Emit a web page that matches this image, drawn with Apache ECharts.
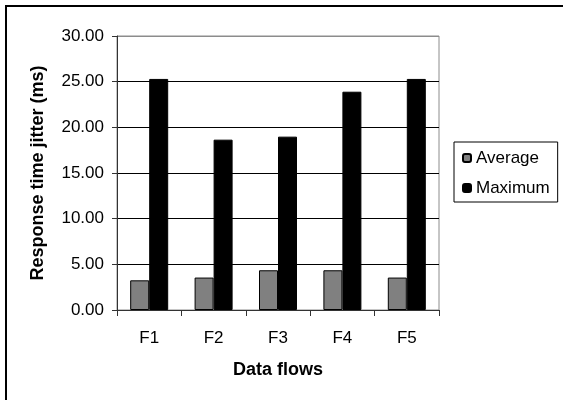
<!DOCTYPE html>
<html>
<head>
<meta charset="utf-8">
<script src="https://cdn.jsdelivr.net/npm/echarts@6/dist/echarts.min.js"></script>
<style>html,body{margin:0;padding:0;background:#fff}#c{width:563px;height:400px}</style>
</head>
<body>
<div id="c"></div>
<script>
var categories = ['F1', 'F2', 'F3', 'F4', 'F5'];
var averageValues = [3.25, 3.55, 4.35, 4.35, 3.55];
var maximumValues = [25.3, 18.65, 18.98, 23.9, 25.3];
var seriesNames = ['Average', 'Maximum'];
var yAxisTitle = 'Response time jitter (ms)';
var xAxisTitle = 'Data flows';

var FONT = '"Liberation Sans", Arial, sans-serif';
var chart = echarts.init(document.getElementById('c'), null, {renderer: 'canvas'});
chart.setOption({
  backgroundColor: '#fff',
  animation: false,
  graphic: [{
    type: 'rect', silent: true, z: 100,
    shape: {x: 6, y: 6, width: 700, height: 500},
    style: {fill: 'none', stroke: '#000', lineWidth: 2}
  }],
  grid: {left: 117, top: 36, right: 124, bottom: 90, show: true, borderColor: '#8c8c8c', borderWidth: 1, backgroundColor: '#fff'},
  legend: {
    left: 454, top: 142, orient: 'vertical',
    padding: [6, 8, 4, 8], itemGap: 10,
    itemWidth: 8, itemHeight: 8,
    borderColor: '#000', borderWidth: 1, backgroundColor: '#fff',
    textStyle: {fontFamily: FONT, fontSize: 17, color: '#000', lineHeight: 20},
    data: seriesNames
  },
  xAxis: {
    type: 'category', data: categories,
    name: xAxisTitle, nameLocation: 'middle', nameGap: 51,
    nameTextStyle: {fontFamily: FONT, fontSize: 18, fontWeight: 'bold', color: '#000'},
    axisLine: {lineStyle: {color: '#333', width: 1}},
    axisTick: {show: true, length: 6, lineStyle: {color: '#333'}},
    axisLabel: {fontFamily: FONT, fontSize: 17, color: '#000', margin: 20}
  },
  yAxis: {
    type: 'value', min: 0, max: 30, interval: 5,
    name: yAxisTitle, nameLocation: 'middle', nameGap: 70,
    nameTextStyle: {fontFamily: FONT, fontSize: 18, fontWeight: 'bold', color: '#000'},
    axisLine: {show: true, lineStyle: {color: '#333', width: 1}},
    axisTick: {show: true, length: 5, lineStyle: {color: '#333'}},
    axisLabel: {fontFamily: FONT, fontSize: 17, color: '#000', margin: 13,
      formatter: function (v) { return v.toFixed(2); }},
    splitLine: {show: true, lineStyle: {color: ['#000', '#000', '#000', '#000', '#000', '#000', '#8c8c8c'], width: 1}}
  },
  series: [{
    name: seriesNames[0], type: 'bar', data: averageValues,
    barWidth: 19, barGap: '0%',
    itemStyle: {color: '#808080', borderColor: '#000', borderWidth: 1}
  }, {
    name: seriesNames[1], type: 'bar', data: maximumValues,
    barWidth: 19,
    itemStyle: {color: '#000', borderColor: '#000', borderWidth: 1}
  }]
});
</script>
</body>
</html>
